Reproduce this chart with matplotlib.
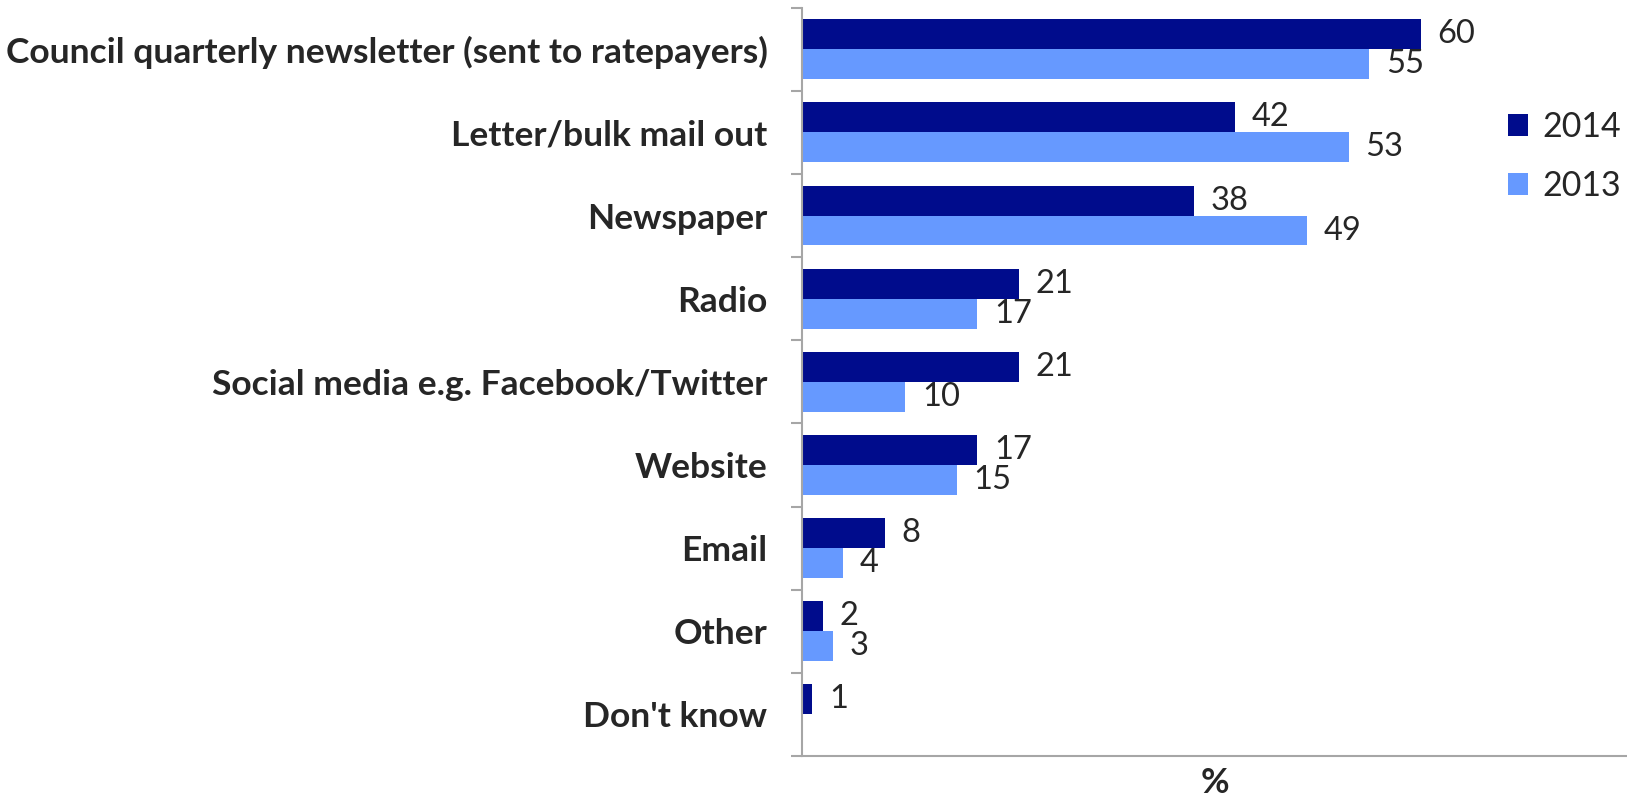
import matplotlib

matplotlib.use('Agg')
import matplotlib.pyplot as plt
import numpy as np

# Data
categories = ['Council quarterly newsletter (sent to ratepayers)',
              'Letter/bulk mail out',
              'Newspaper',
              'Radio',
              'Social media e.g. Facebook/Twitter',
              'Website',
              'Email',
              'Other',
              "Don't know"]
values_2014 = [60, 42, 38, 21, 21, 17, 8, 2, 1]
values_2013 = [55, 53, 49, 17, 10, 15, 4, 3, np.nan]
series_labels = ['2014', '2013']

DARK = '#000C8C'
LIGHT = '#6699FF'
TEXT = '#262626'
AXIS = '#A6A6A6'

plt.rcParams['font.family'] = ['Lato', 'DejaVu Sans']

fig = plt.figure(figsize=(16.27, 7.96), dpi=100)
ax = fig.add_axes([0.493, 0.0503, 0.507, 0.94])

y = np.arange(len(categories))
h = 0.36
bars14 = ax.barh(y - h / 2, values_2014, height=h, color=DARK, label=series_labels[0])
bars13 = ax.barh(y + h / 2, values_2013, height=h, color=LIGHT, label=series_labels[1])

# value labels
for bars, vals in [(bars14, values_2014), (bars13, values_2013)]:
    for b, v in zip(bars, vals):
        if np.isnan(v):
            continue
        ax.annotate('%d' % v, (v, b.get_y() + b.get_height() / 2),
                    xytext=(12, 0), textcoords='offset points',
                    va='center', ha='left', fontsize=23.5, color=TEXT)

ax.set_xlim(0, 80)
ax.set_ylim(len(categories) - 0.5, -0.5)

# category labels in the middle, tick marks on the boundaries
ax.set_yticks(y)
ax.set_yticklabels(categories, fontsize=25.5, fontweight='bold', color=TEXT)
ax.tick_params(axis='y', which='major', length=0, pad=25)
ax.set_yticks(np.arange(len(categories) + 1) - 0.5, minor=True)
ax.tick_params(axis='y', which='minor', length=8, width=1.5, color=AXIS)

ax.set_xticks([])
ax.set_xlabel('%', fontsize=25, fontweight='bold', color=TEXT, labelpad=8)

for s in ['top', 'right']:
    ax.spines[s].set_visible(False)
for s in ['left', 'bottom']:
    ax.spines[s].set_color(AXIS)
    ax.spines[s].set_linewidth(1.5)

lgd = ax.legend(loc='upper left', bbox_to_anchor=(1508 / 1627, 1 - 111 / 796),
                bbox_transform=fig.transFigure, frameon=False,
                fontsize=24.5, handlelength=0.6, handleheight=0.6,
                handletextpad=0.4, labelspacing=0.8, borderpad=0, borderaxespad=0)
for t in lgd.get_texts():
    t.set_color(TEXT)

fig.savefig('out.png', dpi=100)
